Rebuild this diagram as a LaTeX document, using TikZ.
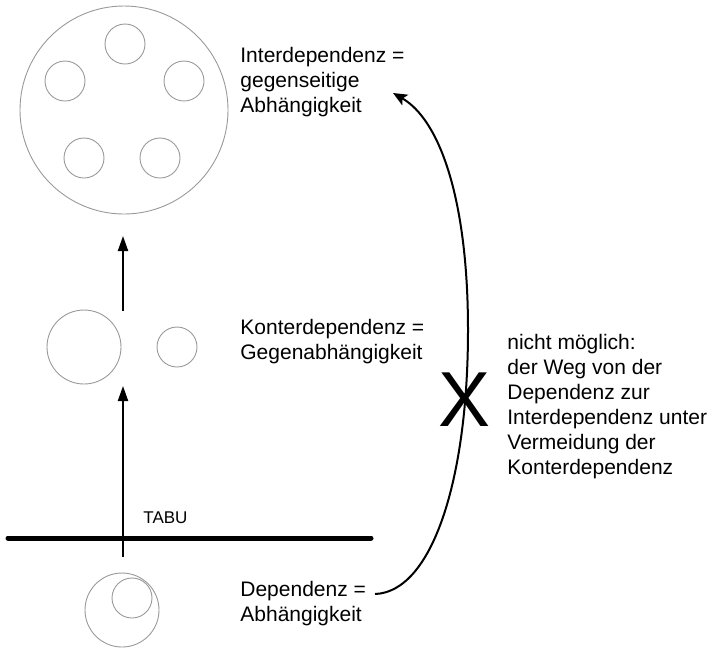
\documentclass[tikz,border=0pt]{standalone}
\usepackage{fontspec}
\setmainfont{Liberation Sans}
\usetikzlibrary{arrows.meta}
\begin{document}
\begin{tikzpicture}[x=0.5pt,y=-0.5pt,
  ring/.style={draw=black!40, line width=0.45pt, circle, inner sep=0pt},
  lbl/.style={anchor=north west, inner sep=0pt, align=left, font=\fontsize{10.5}{12.5}\selectfont},
  upar/.style={line width=1pt, -{Triangle[length=7.5pt,width=5pt]}},
]
\useasboundingbox (0,0) rectangle (712,650);
% Interdependenz circles
\node[ring, minimum size=104pt] (big) at (124,110) {};
\node[ring, minimum size=20pt] (i1) at (125,44) {};
\node[ring, minimum size=20pt] (i2) at (65,81) {};
\node[ring, minimum size=20pt] (i3) at (184,81) {};
\node[ring, minimum size=20pt] (i4) at (84,158) {};
\node[ring, minimum size=20pt] (i5) at (160,158) {};
% Konterdependenz circles
\node[ring, minimum size=37pt] (k1) at (84,347) {};
\node[ring, minimum size=20pt] (k2) at (177,347) {};
% Dependenz circles
\node[ring, minimum size=37pt] (d1) at (122,610) {};
\node[ring, minimum size=20pt] (d2) at (132,598) {};
% arrows
\coordinate (a1s) at (123,311);
\coordinate (a1e) at (123,236);
\coordinate (a2s) at (123,557);
\coordinate (a2e) at (123,386);
\draw[upar] (a1s) -- (a1e);
\draw[upar] (a2s) -- (a2e);
% TABU line
\coordinate (tl) at (8,538);
\coordinate (tr) at (371,538);
\draw[line width=2.5pt, line cap=round] (tl) -- (tr);
\node[anchor=base west, inner sep=0pt, font=\fontsize{8.5}{10}\selectfont] (tabu) at (143,523) {TABU};
% labels
\node[lbl] (inter) at (240,46.5) {Interdependenz =\\gegenseitige\\Abhängigkeit};
\node[lbl] (konter) at (240,318.5) {Konterdependenz =\\Gegenabhängigkeit};
\node[lbl] (dep) at (240,581) {Dependenz =\\Abhängigkeit};
\node[lbl] (note) at (507,334) {nicht möglich:\\der Weg von der\\Dependenz zur\\Interdependenz unter\\Vermeidung der\\Konterdependenz};
% curved arrow
\coordinate (cs) at (375,594);
\coordinate (cm) at (468,330);
\coordinate (ce) at (393,93);
\draw[line width=1pt, -{Stealth[length=7pt,width=6pt,inset=1.5pt]}]
  (cs) .. controls (432,592) and (468,480) .. (cm)
       .. controls (468,200) and (440,120) .. (ce);
% big X
\node[inner sep=0pt, font=\fontsize{39}{39}\selectfont] (x) at (465,400) {X};
\end{tikzpicture}
\end{document}
